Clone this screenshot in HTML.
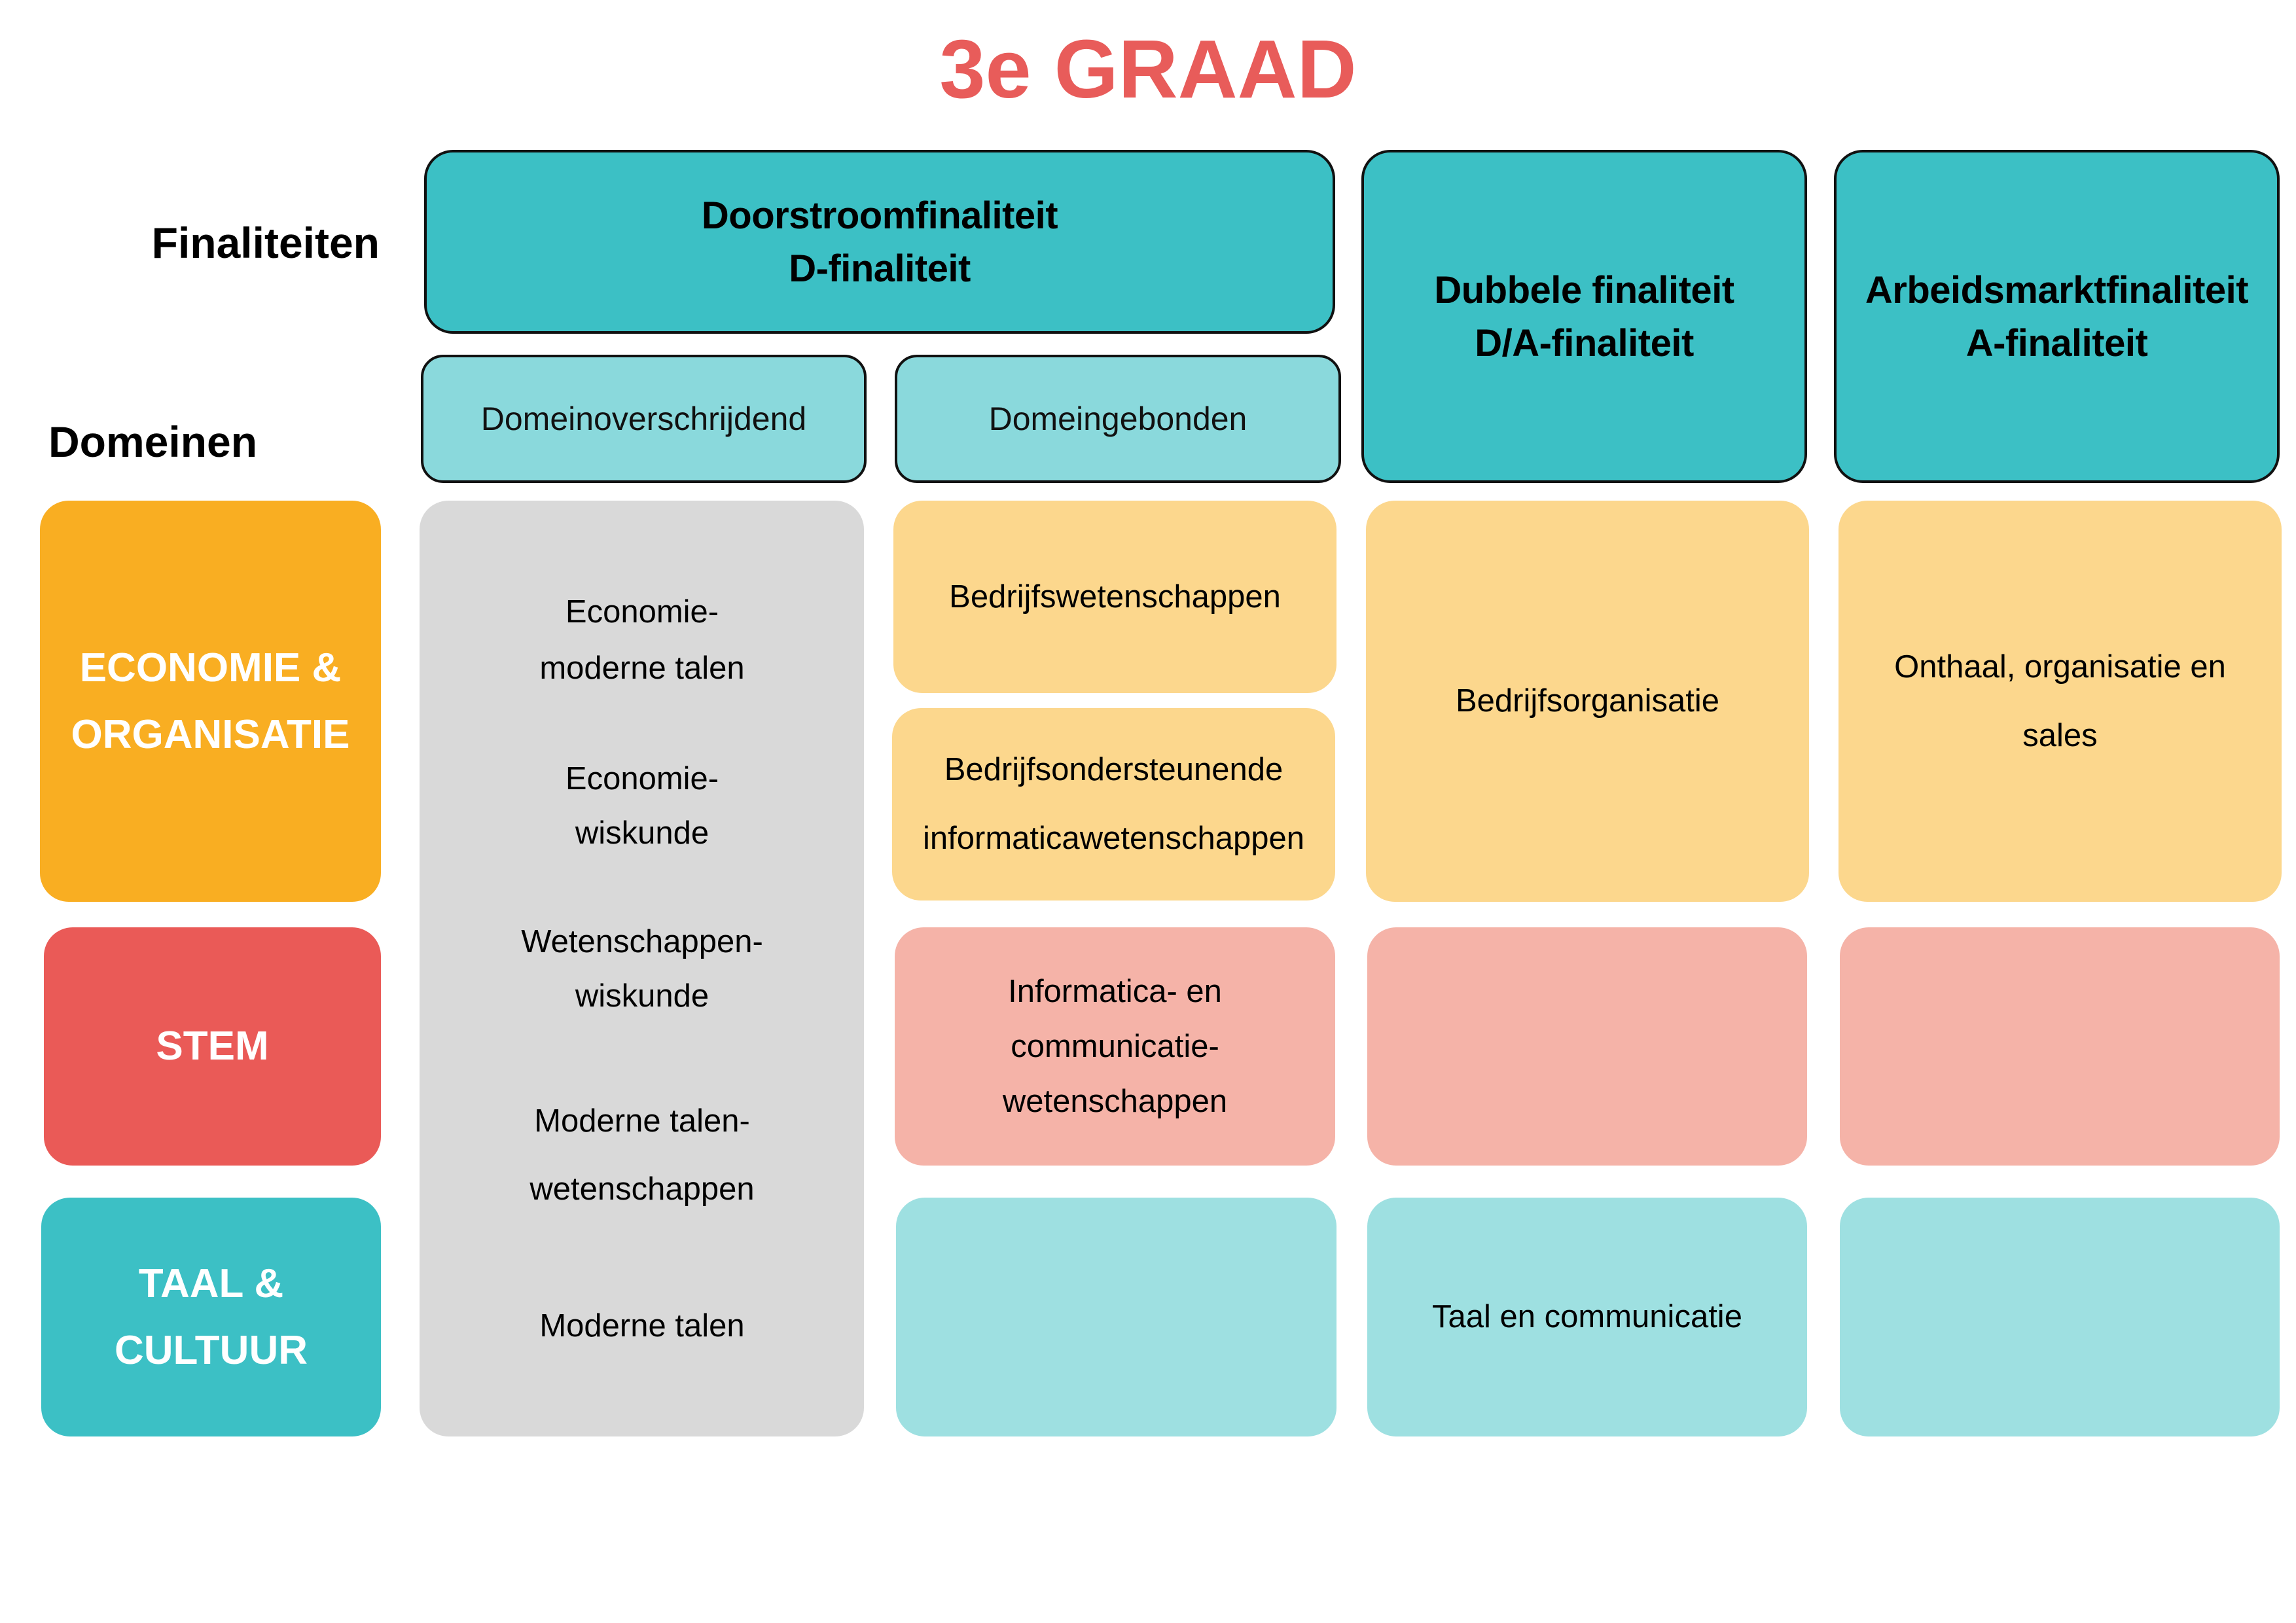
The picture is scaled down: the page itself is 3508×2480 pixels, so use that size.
<!DOCTYPE html>
<html><head><meta charset="utf-8"><style>
body{margin:0;width:3508px;height:2480px;background:#fff;position:relative;overflow:hidden;font-family:"Liberation Sans",sans-serif;}
.b{position:absolute;box-sizing:border-box;display:flex;align-items:center;justify-content:center;text-align:center;}
.h{background:#3CC0C5;border:4px solid #111;border-radius:44px;font-weight:bold;font-size:58px;line-height:81px;color:#000;letter-spacing:-0.5px;}
.d{background:#8AD9DC;border:4px solid #111;border-radius:34px;font-size:50px;color:#111;}
.c{border-radius:44px;font-size:49px;line-height:105px;color:#000;}
.l{border-radius:44px;font-weight:bold;font-size:62px;line-height:102px;color:#fff;}
.t{position:absolute;width:680px;left:641px;text-align:center;font-size:49px;line-height:60px;color:#000;}
</style></head><body>
<div class="b" style="left:0;width:3508px;top:35px;height:140px;color:#E85C5A;font-weight:bold;font-size:126px;">3e GRAAD</div>
<div class="b" style="left:150px;width:430px;top:331px;height:80px;justify-content:flex-end;font-weight:bold;font-size:66px;">Finaliteiten</div>
<div class="b" style="left:74px;width:400px;top:635px;height:80px;justify-content:flex-start;font-weight:bold;font-size:66px;">Domeinen</div>

<div class="b h" style="left:648px;top:229px;width:1392px;height:281px;">Doorstroomfinaliteit<br>D-finaliteit</div>
<div class="b h" style="left:2080px;top:229px;width:681px;height:509px;">Dubbele finaliteit<br>D/A-finaliteit</div>
<div class="b h" style="left:2802px;top:229px;width:681px;height:509px;">Arbeidsmarktfinaliteit<br>A-finaliteit</div>
<div class="b d" style="left:643px;top:542px;width:681px;height:196px;">Domeinoverschrijdend</div>
<div class="b d" style="left:1367px;top:542px;width:682px;height:196px;">Domeingebonden</div>

<div class="b l" style="left:61px;top:765px;width:521px;height:613px;background:#F9AE22;">ECONOMIE &amp;<br>ORGANISATIE</div>
<div class="b l" style="left:67px;top:1417px;width:515px;height:364px;background:#EA5A57;">STEM</div>
<div class="b l" style="left:63px;top:1830px;width:519px;height:365px;background:#3CC0C5;">TAAL &amp;<br>CULTUUR</div>

<div class="b c" style="left:641px;top:765px;width:679px;height:1430px;background:#D9D9D9;"></div>
<div class="t" style="top:905px">Economie-</div>
<div class="t" style="top:991px">moderne talen</div>
<div class="t" style="top:1160px">Economie-</div>
<div class="t" style="top:1243px">wiskunde</div>
<div class="t" style="top:1409px">Wetenschappen-</div>
<div class="t" style="top:1492px">wiskunde</div>
<div class="t" style="top:1683px">Moderne talen-</div>
<div class="t" style="top:1787px">wetenschappen</div>
<div class="t" style="top:1996px">Moderne talen</div>

<div class="b c" style="left:1365px;top:765px;width:677px;height:294px;background:#FCD78D;">Bedrijfswetenschappen</div>
<div class="b c" style="left:1363px;top:1082px;width:677px;height:294px;background:#FCD78D;">Bedrijfsondersteunende<br>informaticawetenschappen</div>
<div class="b c" style="left:2087px;top:765px;width:677px;height:613px;background:#FCD78D;">Bedrijfsorganisatie</div>
<div class="b c" style="left:2809px;top:765px;width:677px;height:613px;background:#FCD78D;">Onthaal, organisatie en<br>sales</div>

<div class="b c" style="left:1367px;top:1417px;width:673px;height:364px;background:#F5B3A8;line-height:84px;">Informatica- en<br>communicatie-<br>wetenschappen</div>
<div class="b c" style="left:2089px;top:1417px;width:672px;height:364px;background:#F5B3A8;"></div>
<div class="b c" style="left:2811px;top:1417px;width:672px;height:364px;background:#F5B3A8;"></div>

<div class="b c" style="left:1369px;top:1830px;width:673px;height:365px;background:#9EE0E1;"></div>
<div class="b c" style="left:2089px;top:1830px;width:672px;height:365px;background:#9EE0E1;">Taal en communicatie</div>
<div class="b c" style="left:2811px;top:1830px;width:672px;height:365px;background:#9EE0E1;"></div>
</body></html>
